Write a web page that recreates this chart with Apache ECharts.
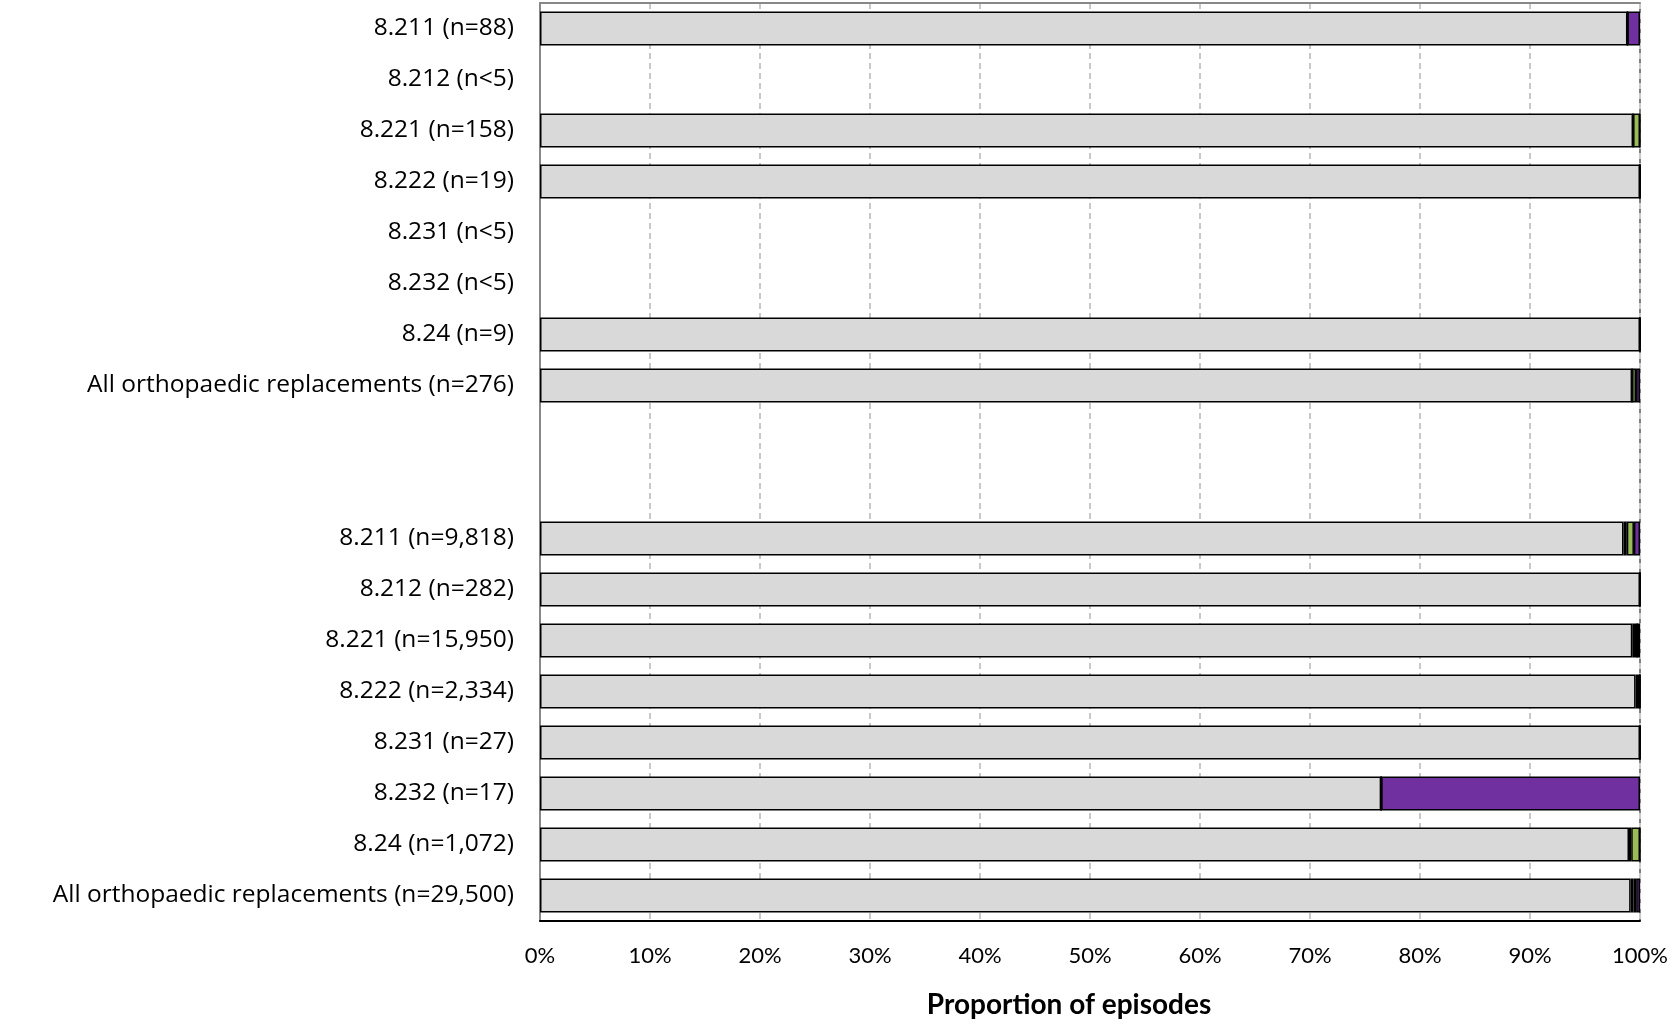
<!DOCTYPE html>
<html>
<head>
<meta charset="utf-8">
<script src="https://cdn.jsdelivr.net/npm/echarts@6/dist/echarts.min.js"></script>
<style>
html,body{margin:0;padding:0;background:#fff;}
#chart{width:1672px;height:1024px;}
</style>
</head>
<body>
<div id="chart"></div>
<script>
const categories = [
  '8.211 (n=88)', '8.212 (n<5)', '8.221 (n=158)', '8.222 (n=19)', '8.231 (n<5)', '8.232 (n<5)', '8.24 (n=9)',
  'All orthopaedic replacements (n=276)', '', ' ',
  '8.211 (n=9,818)', '8.212 (n=282)', '8.221 (n=15,950)', '8.222 (n=2,334)', '8.231 (n=27)', '8.232 (n=17)',
  '8.24 (n=1,072)', 'All orthopaedic replacements (n=29,500)'
];
const grayValues   = [98.86, null, 99.37, 100, null, null, 100, 99.28, null, null, 98.5, 100, 99.3, 99.6, 100, 76.47, 99.0, 99.15];
const blackValues  = [0, null, 0, 0, null, null, 0, 0, null, null, 0.3, 0, 0.45, 0.4, 0, 0, 0.2, 0.25];
const greenValues  = [0, null, 0.63, 0, null, null, 0, 0.36, null, null, 0.65, 0, 0, 0, 0, 0, 0.8, 0.25];
const purpleValues = [1.14, null, 0, 0, null, null, 0, 0.36, null, null, 0.55, 0, 0.25, 0, 0, 23.53, 0, 0.35];
const xTicks = ['0%', '10%', '20%', '30%', '40%', '50%', '60%', '70%', '80%', '90%', '100%'];

const FONT = '"Open Sans", Lato, sans-serif';
function mk(name, data, color) {
  return {
    name: name, type: 'bar', stack: 'total', data: data, barWidth: 34,
    itemStyle: { color: color, borderColor: '#000', borderWidth: 1.5 },
    emphasis: { disabled: true }
  };
}
const chart = echarts.init(document.getElementById('chart'));
chart.setOption({
  animation: false,
  grid: { left: 540, top: 3, width: 1100, height: 919, show: true, borderColor: '#000', borderWidth: 1, containLabel: false },
  xAxis: [{
    type: 'value', min: 0, max: 100, interval: 10, position: 'bottom',
    axisLine: { show: true, lineStyle: { color: '#000', width: 2 } },
    axisTick: { show: false },
    splitLine: { show: true, lineStyle: { color: '#c8c8c8', type: [6, 4], width: 2 } },
    axisLabel: { formatter: function (v) { return xTicks[Math.round(v / 10)]; }, color: '#000', fontSize: 22, fontFamily: 'Lato, sans-serif', margin: 24 },
    name: 'Proportion of episodes', nameLocation: 'middle', nameGap: 70,
    nameTextStyle: { color: '#000', fontSize: 28, fontWeight: 'bold', fontFamily: 'Lato, sans-serif', padding: [0, 42, 0, 0] }
  }, {
    type: 'value', min: 0, max: 100, position: 'top',
    axisLine: { show: true, lineStyle: { color: '#888', width: 2 } },
    axisTick: { show: false }, axisLabel: { show: false }, splitLine: { show: false }
  }],
  yAxis: {
    type: 'category', data: categories, inverse: true,
    axisLine: { show: true, lineStyle: { color: '#888', width: 2 } },
    axisTick: { show: false },
    axisLabel: { color: '#000', fontSize: 24.5, fontFamily: FONT, margin: 26, interval: 0, padding: [8, 0, 0, 0] }
  },
  series: [
    mk('Gray', grayValues, '#d9d9d9'),
    mk('Black', blackValues, '#000000'),
    mk('Green', greenValues, '#9bbb59'),
    mk('Purple', purpleValues, '#7030a0')
  ]
});
</script>
</body>
</html>
